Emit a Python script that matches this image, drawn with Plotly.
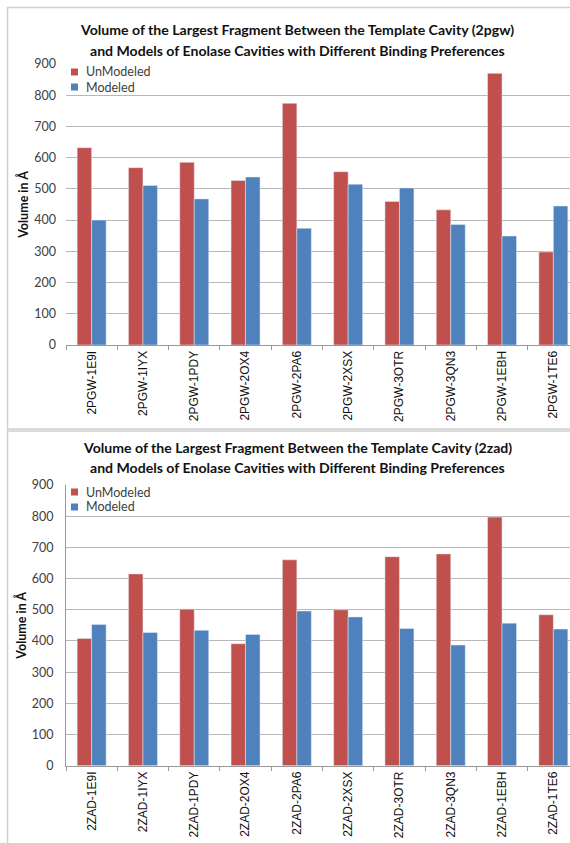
import plotly.graph_objects as go

W, H = 570, 843

# Cavity pair labels
pgw_labels = ["2PGW-1E9I", "2PGW-1IYX", "2PGW-1PDY", "2PGW-2OX4", "2PGW-2PA6",
              "2PGW-2XSX", "2PGW-3OTR", "2PGW-3QN3", "2PGW-1EBH", "2PGW-1TE6"]
zad_labels = ["2ZAD-1E9I", "2ZAD-1IYX", "2ZAD-1PDY", "2ZAD-2OX4", "2ZAD-2PA6",
              "2ZAD-2XSX", "2ZAD-3OTR", "2ZAD-3QN3", "2ZAD-1EBH", "2ZAD-1TE6"]

# Largest-fragment volumes (Å) against template 2pgw
pgw_unmodeled = [632, 568, 585, 527, 774, 555, 460, 433, 870, 298]
pgw_modeled = [400, 511, 468, 538, 374, 515, 503, 386, 349, 445]

# Largest-fragment volumes (Å) against template 2zad
zad_unmodeled = [408, 615, 502, 391, 660, 500, 670, 679, 797, 484]
zad_modeled = [453, 427, 434, 421, 496, 477, 440, 387, 457, 438]

series_names = ["UnModeled", "Modeled"]
y_ticks = [0, 100, 200, 300, 400, 500, 600, 700, 800, 900]

RED = "#C0504D"
BLUE = "#4F81BD"
FONT = "Lato, 'Open Sans', sans-serif"


def fy(px):
    """pixel row -> paper fraction"""
    return 1 - px / H


def fx(px):
    return px / W


fig = go.Figure()

fig.add_trace(go.Bar(x=pgw_labels, y=pgw_unmodeled, name=series_names[0], marker_color=RED,
                     xaxis="x", yaxis="y"))
fig.add_trace(go.Bar(x=pgw_labels, y=pgw_modeled, name=series_names[1], marker_color=BLUE,
                     xaxis="x", yaxis="y"))
fig.add_trace(go.Bar(x=zad_labels, y=zad_unmodeled, name=series_names[0], marker_color=RED,
                     xaxis="x2", yaxis="y2"))
fig.add_trace(go.Bar(x=zad_labels, y=zad_modeled, name=series_names[1], marker_color=BLUE,
                     xaxis="x2", yaxis="y2"))

plot_left = 66
cat_w = 51.3
x_end = 9.5 - (plot_left + 10 * cat_w - W) / cat_w

xaxis_common = dict(
    domain=[fx(plot_left), 1],
    range=[-0.5, x_end],
    type="category",
    tickangle=-90,
    ticks="outside",
    tickson="boundaries",
    ticklen=4,
    tickcolor="#9a9a9a",
    showline=True,
    linecolor="#9a9a9a",
    linewidth=1,
    showgrid=False,
    automargin=False,
    tickfont=dict(family="'Liberation Sans', Arial, sans-serif", size=12, color="#111"),
    fixedrange=True,
)
yaxis_common = dict(
    range=[0, 900],
    tickvals=y_ticks,
    showgrid=True,
    gridcolor="#b8b8b8",
    gridwidth=1,
    zeroline=False,
    automargin=False,
    tickfont=dict(family=FONT, size=12.5, color="#404040"),
    ticklabelstandoff=9,
    title=dict(text="<b>Volume in Å</b>", font=dict(family=FONT, size=12.5, color="#111"),
               standoff=2),
    fixedrange=True,
)

fig.update_layout(
    width=W, height=H,
    margin=dict(l=0, r=0, t=0, b=0, autoexpand=False),
    paper_bgcolor="white",
    plot_bgcolor="white",
    barmode="group",
    bargap=0.435,
    bargroupgap=0,
    showlegend=False,
    xaxis=dict(**xaxis_common, anchor="y"),
    yaxis=dict(**yaxis_common, domain=[fy(345), fy(64)], anchor="x", showline=False),
    xaxis2=dict(**xaxis_common, anchor="y2"),
    yaxis2=dict(**yaxis_common, domain=[fy(765.7), fy(485)], anchor="x2",
                showline=True, linecolor="#9a9a9a", linewidth=1),
)

# Series keys, one per chart
legend_font = dict(family=FONT, size=12.5, color="#404040")
for top in (72, 492):
    for i, (name, color) in enumerate(zip(series_names, [RED, BLUE])):
        yc = top + 15 * i
        fig.add_shape(type="rect", xref="paper", yref="paper",
                      x0=fx(71), x1=fx(78), y0=fy(yc + 3.5), y1=fy(yc - 3.5),
                      fillcolor=color, line=dict(width=0))
        fig.add_annotation(text=name, x=fx(84), y=fy(yc), xref="paper", yref="paper",
                           xanchor="left", yanchor="middle", showarrow=False, font=legend_font)

# Chart titles
title_font = dict(family=FONT, size=14.1, color="#111")
titles = [
    ("<b>Volume of the Largest Fragment Between the Template Cavity (2pgw)</b>", 30),
    ("<b>and Models of Enolase Cavities with Different Binding Preferences</b>", 50),
    ("<b>Volume of the Largest Fragment Between the Template Cavity (2zad)</b>", 448),
    ("<b>and Models of Enolase Cavities with Different Binding Preferences</b>", 467),
]
for text, ypx in titles:
    fig.add_annotation(text=text, x=fx(297), y=fy(ypx), xref="paper", yref="paper",
                       xanchor="center", yanchor="middle", showarrow=False, font=title_font)

# Chart-area frames
frame = dict(type="rect", xref="paper", yref="paper",
             line=dict(color="#d0d0d0", width=1.5), fillcolor="rgba(0,0,0,0)", layer="below")
fig.add_shape(**frame, x0=fx(7.5), x1=fx(590), y0=fy(429), y1=fy(7.5))
fig.add_shape(**frame, x0=fx(7.5), x1=fx(590), y0=fy(860), y1=fy(431))

fig.write_html("out.html")
